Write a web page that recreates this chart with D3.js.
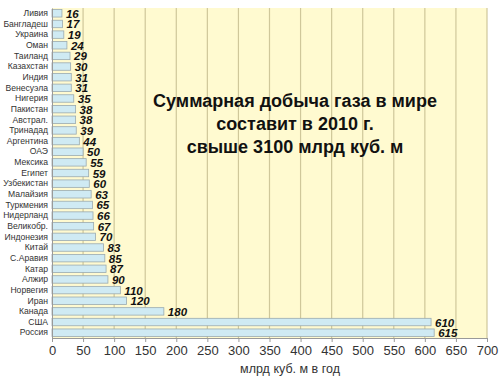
<!DOCTYPE html>
<html><head><meta charset="utf-8">
<script src="https://cdn.jsdelivr.net/npm/d3@7/dist/d3.min.js"></script>
<style>body{margin:0;background:#fff;}svg{display:block;}</style>
</head><body>
<svg id="c" width="500" height="379"></svg>
<script>
const countries = ["Ливия","Бангладеш","Украина","Оман","Таиланд","Казахстан","Индия","Венесуэла","Нигерия","Пакистан","Австрал.","Тринадад","Аргентина","ОАЭ","Мексика","Египет","Узбекистан","Малайзия","Туркмения","Нидерланд","Великобр.","Индонезия","Китай","С.Аравия","Катар","Алжир","Норвегия","Иран","Канада","США","Россия"];
const production = [16,17,19,24,29,30,31,31,35,38,38,39,44,50,55,59,60,63,65,66,67,70,83,85,87,90,110,120,180,610,615];
const xTicks = [0,50,100,150,200,250,300,350,400,450,500,550,600,650,700];
const titleLines = ["Суммарная добыча газа в мире","составит в 2010 г.","свыше 3100 млрд куб. м"];
const axisTitle = "млрд куб. м в год";

const svg = d3.select("#c");
const L = 52, R = 487, T = 8, B = 338;
const x = d3.scaleLinear().domain([0,700]).range([L,R]);
const y = d3.scaleBand().domain(countries).range([T,B]).paddingInner(0.3).paddingOuter(0.15);

svg.append("rect").attr("x",L).attr("y",T).attr("width",R-L).attr("height",B-T).attr("fill","#fffad0");

svg.append("g").selectAll("line").data(xTicks.slice(1)).join("line")
  .attr("x1",d=>x(d)).attr("x2",d=>x(d)).attr("y1",T).attr("y2",B)
  .attr("stroke","#cfc79a").attr("stroke-width",1.2);

svg.append("g").selectAll("rect").data(countries).join("rect")
  .attr("x",L).attr("y",d=>y(d)).attr("width",(d,i)=>x(production[i])-L).attr("height",y.bandwidth())
  .attr("fill","#cfeaf3").attr("stroke","#9aaab0").attr("stroke-width",0.8);

svg.append("g").selectAll("text").data(countries).join("text")
  .attr("x",(d,i)=>x(production[i])+4).attr("y",d=>y(d)+y.bandwidth()/2+4.5)
  .attr("font-family","Liberation Sans, Arial, sans-serif").attr("font-size",11.5)
  .attr("font-weight","bold").attr("font-style","italic").attr("fill","#111")
  .text((d,i)=>production[i]);

const ya = svg.append("g").attr("transform",`translate(${L},0)`)
  .call(d3.axisLeft(y).tickSize(0).tickPadding(4));
ya.select(".domain").attr("stroke","#999");
ya.selectAll("text").attr("font-family","Liberation Sans, Arial, sans-serif").attr("font-size",8.6).attr("fill","#333");

const xa = svg.append("g").attr("transform",`translate(0,${B})`)
  .call(d3.axisBottom(x).tickValues(xTicks).tickSize(4).tickPadding(4));
xa.select(".domain").attr("stroke","#999");
xa.selectAll(".tick line").attr("stroke","#999");
xa.selectAll("text").attr("font-family","Liberation Sans, Arial, sans-serif").attr("font-size",13).attr("fill","#333");

svg.append("text").attr("x",290).attr("y",373).attr("text-anchor","middle")
  .attr("font-family","Liberation Sans, Arial, sans-serif").attr("font-size",12.5).attr("fill","#333").text(axisTitle);

svg.append("g").selectAll("text").data(titleLines).join("text")
  .attr("x",295).attr("y",(d,i)=>107+i*23).attr("text-anchor","middle")
  .attr("font-family","Liberation Sans, Arial, sans-serif").attr("font-size",18).attr("font-weight","bold").attr("fill","#111")
  .text(d=>d);
</script>
</body></html>
